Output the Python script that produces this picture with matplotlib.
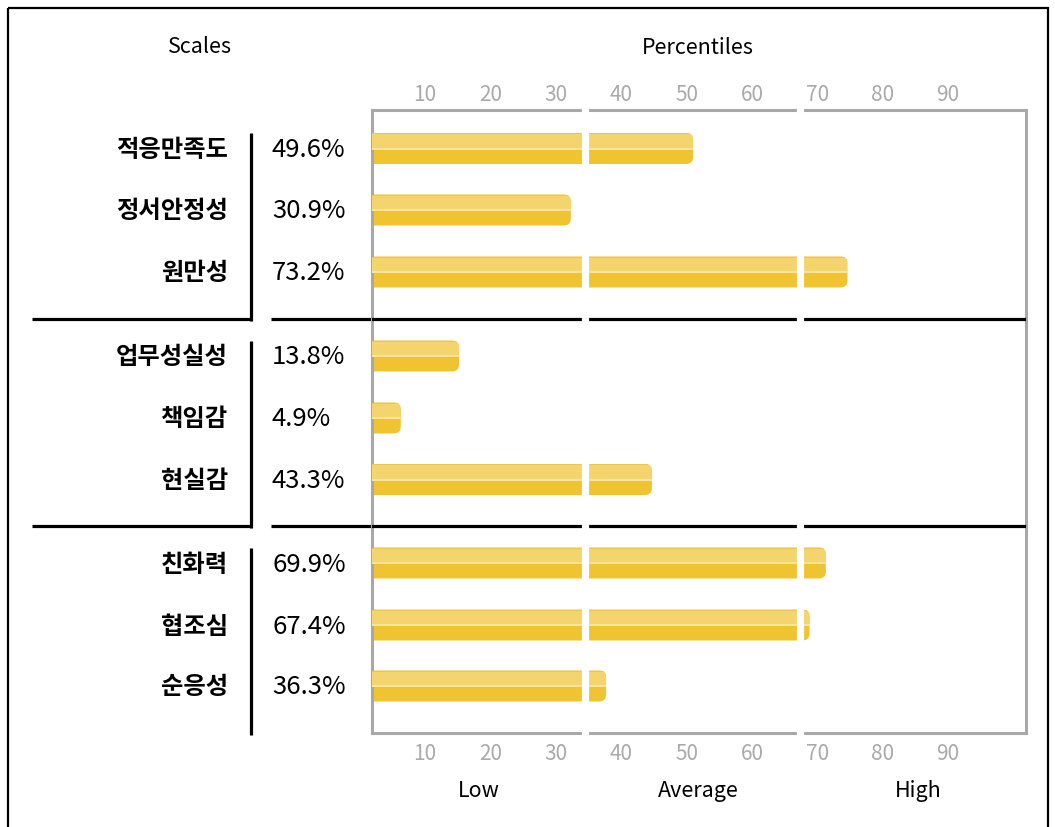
import matplotlib
matplotlib.use("Agg")
import matplotlib.pyplot as plt
from matplotlib.patches import FancyBboxPatch, Rectangle

plt.rcParams['font.family'] = ['Noto Sans CJK KR', 'DejaVu Sans']

# 데이터
scales = ['적응만족도', '정서안정성', '원만성',
          '업무성실성', '책임감', '현실감',
          '친화력', '협조심', '순응성']
values = [49.6, 30.9, 73.2, 13.8, 4.9, 43.3, 69.9, 67.4, 36.3]
ticks = [10, 20, 30, 40, 50, 60, 70, 80, 90]
bands = ['Low', 'Average', 'High']

# 레이아웃 (픽셀 단위, 위에서 아래로)
W, H = 1055, 827
row_y = [148.5, 210, 272, 356, 418, 479.5, 563, 625, 686]
sep_y = [319, 526]
box_l, box_r, box_t, box_b = 372, 1026, 110, 733
xlim = (1.9, 101.9)
gap_x = [34.4, 67.3]
BAR_CAP = 1.4
BAR_H = 31

DARK = '#efc430'
LIGHT = '#f4d46c'
SHINE = '#f8e49c'
EDGE = '#eec64a'


def main():
    fig = plt.figure(figsize=(W / 100, H / 100), dpi=100)

    # 배경용 축 (픽셀 좌표)
    bg = fig.add_axes([0, 0, 1, 1])
    bg.set_xlim(0, W)
    bg.set_ylim(H, 0)
    bg.axis('off')
    bg.set_zorder(0)

    ax = fig.add_axes([box_l / W, (H - box_b) / H,
                       (box_r - box_l) / W, (box_b - box_t) / H])
    ax.set_zorder(1)
    ax.patch.set_alpha(0)
    ax.set_xlim(*xlim)
    ax.set_ylim(box_b, box_t)
    ax.set_yticks([])
    ax.set_xticks(ticks)
    ax.set_xticklabels([str(t) for t in ticks])
    ax.tick_params(axis='x', bottom=True, labelbottom=True,
                   length=0, labelsize=15, labelcolor='#aaaaaa', pad=7)
    for lab in ax.get_xticklabels():
        lab.set_fontweight('light')
    for sp in ax.spines.values():
        sp.set_color('#a8a8a8')
        sp.set_linewidth(2.2)

    # 위쪽 눈금
    top_ax = ax.secondary_xaxis('top')
    top_ax.set_xticks(ticks)
    top_ax.set_xticklabels([str(t) for t in ticks], fontweight='light')
    top_ax.tick_params(length=0, labelsize=15, labelcolor='#aaaaaa', pad=3)
    top_ax.spines['top'].set_visible(False)

    ppu = (box_r - box_l) / (xlim[1] - xlim[0])   # 가로 1단위당 픽셀
    r = 7 / ppu
    for y, v in zip(row_y, values):
        x0 = xlim[0] - 3
        w = v + BAR_CAP - x0
        top = y - BAR_H / 2
        bar = FancyBboxPatch((x0, top), w, BAR_H,
                             boxstyle=f'round,pad=0,rounding_size={r}',
                             mutation_aspect=ppu, fc=DARK, ec='none', zorder=2)
        ax.add_patch(bar)
        for (yy, hh, c) in [(top, 15.5, LIGHT), (top + 14.5, 2, SHINE), (top, 1.2, EDGE)]:
            rect = Rectangle((x0, yy), w, hh, fc=c, ec='none', zorder=3)
            ax.add_patch(rect)
            rect.set_clip_path(bar)

    for y in sep_y:
        ax.axhline(y, color='black', lw=2.3, zorder=4)
    for gx in gap_x:
        ax.axvline(gx, color='white', lw=5.2, zorder=6, clip_on=False)

    # 바깥 테두리
    bg.add_patch(Rectangle((8, 8), 1040, 840, fill=False, ec='black', lw=1.6, clip_on=False))

    # 왼쪽 구분선
    for y in sep_y:
        bg.plot([32, 252], [y, y], color='black', lw=2.3, solid_capstyle='butt')
        bg.plot([271, box_l], [y, y], color='black', lw=2.3, solid_capstyle='butt')
    for y0, y1 in [(133, 320.5), (341, 527.5), (548, 735)]:
        bg.plot([251, 251], [y0, y1], color='black', lw=2.3, solid_capstyle='butt')

    bg.text(200, 47, 'Scales', ha='center', va='center', fontsize=15.5)
    bg.text(698, 48, 'Percentiles', ha='center', va='center', fontsize=15.5)
    for bx, b in zip([479, 698, 918], bands):
        bg.text(bx, 791, b, ha='center', va='center', fontsize=15.5)

    for y, s, v in zip(row_y, scales, values):
        bg.text(228, y + 1.5, s, ha='right', va='center', fontsize=17.5, fontweight='bold')
        bg.text(272, y + 1.5, f'{v}%', ha='left', va='center', fontsize=18.5, fontweight='medium')

    fig.savefig('out.png', dpi=100)


if __name__ == "__main__":
    main()
